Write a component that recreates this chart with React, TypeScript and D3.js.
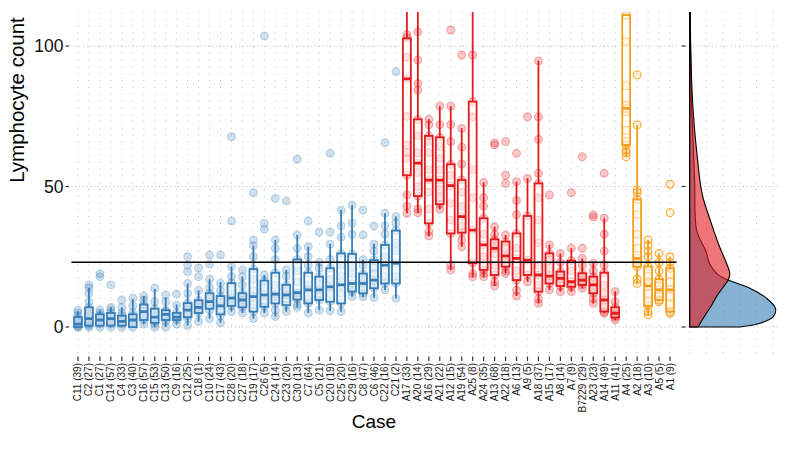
import React, { useEffect, useRef } from "react";
import * as d3 from "d3";

// cases, in plotted order, with number of samples in brackets
const cases = [
  "C11 (39)", "C2 (27)", "C1 (27)", "C14 (57)", "C4 (33)", "C3 (40)", "C16 (57)", "C15 (53)",
  "C13 (50)", "C9 (16)", "C12 (25)", "C18 (1)", "C10 (24)", "C17 (43)", "C28 (20)", "C27 (18)",
  "C19 (17)", "C26 (5)", "C24 (14)", "C23 (20)", "C30 (13)", "C7 (64)", "C5 (21)", "C20 (19)",
  "C25 (20)", "C29 (16)", "C8 (47)", "C6 (46)", "C22 (16)", "C21 (2)",
  "A17 (33)", "A20 (14)", "A16 (29)", "A21 (22)", "A12 (15)", "A19 (54)", "A25 (8)", "A24 (35)",
  "A13 (68)", "A22 (18)", "A6 (13)", "A9 (5)", "A18 (37)", "A15 (17)", "A8 (14)", "A7 (9)",
  "B7229 (29)", "A23 (23)", "A14 (49)", "A11 (41)",
  "A4 (25)", "A2 (18)", "A3 (10)", "A5 (5)", "A1 (9)",
];
const caseGroup = "CCCCCCCCCCCCCCCCCCCCCCCCCCCCCCAAAAAAAAAAAAAAAAAAAAOOOOO".split("");

// box statistics per case
const whiskerLow = [
  0, 0, 0, 0, 0, 0, 1, 0, 0, 1, 0.5, 2, 3, 1.5, 5.5, 5, 3, 5, 3.7, 5.5, 7, 5, 6, 5.8, 5.5, 10.8, 10.8, 10.5, 13.2, 10.2,
  40.5, 40.7, 32.4, 41.9, 20.3, 28.6, 17.9, 17.9, 14.6, 19.1, 11, 16.1, 8.4, 13.2, 12.6, 12.6, 13.8, 8.4, 4.9, 2.5,
  60.6, 15.5, 4.3, 9, 4.9,
];
const q1 = [
  0, 0.5, 0.5, 0.5, 0.5, 0, 2.5, 1.5, 2.5, 2.5, 3.5, 5, 6.5, 4.5, 7.5, 7, 5.5, 7.2, 8.4, 7.8, 9.8, 8.4, 9.6, 9, 8.4, 12.6, 12, 13.8, 15.5, 15.5,
  54, 46.6, 36.9, 43.7, 33.3, 33.6, 22.7, 20.3, 18.5, 21.5, 16.7, 18.5, 12.6, 15.5, 14.6, 14.3, 15, 12, 5.5, 3.4,
  64.8, 21.5, 7.5, 9.6, 5.5,
];
const median = [
  1, 3, 2.5, 3, 2, 2.5, 5.5, 3.5, 4.5, 3.5, 6, 7, 9, 7.5, 10.3, 9.6, 10.8, 11.4, 11.7, 11.4, 12.2, 13.2, 13.2, 14.3, 15, 15.5, 15.5, 16.7, 22, 22.7,
  88.3, 58.3, 52.3, 52.3, 50.3, 39.3, 34.5, 29.2, 28, 25.3, 24.4, 23.8, 18.5, 18.1, 17.3, 16.1, 16.7, 15, 9.6, 4.9,
  77.8, 24.4, 14.6, 13.2, 13.2,
];
const q3 = [
  3.5, 7, 4.5, 5, 4, 4.5, 8, 6.5, 6, 5, 8.5, 9.5, 12, 11, 15.6, 12, 20.6, 16.5, 19.3, 15, 24, 19.3, 17.9, 20.9, 26.2, 26, 19, 23.8, 29.2, 34.3,
  102.7, 73.9, 68, 67.5, 57.9, 52.3, 80.2, 38.7, 31.2, 30.4, 33.3, 39.5, 51.1, 26.2, 19.7, 23.6, 19.1, 17.9, 19.3, 7,
  111, 45.4, 21.5, 17, 20.9,
];
const whiskerHigh = [
  5.5, 14, 6, 7, 7, 10, 11, 13.5, 10.5, 8, 15.5, 13, 17, 16, 21.5, 18, 29, 18.5, 31, 20.3, 32.7, 28.6, 23, 29.5, 41.6, 43.4, 24, 29.5, 40.5, 39.3,
  125, 125, 73.9, 78.6, 78.6, 70.7, 125, 51.4, 35.7, 32.7, 51.7, 52.9, 94.7, 29.2, 26.2, 28, 24.4, 22.7, 38.7, 12.6,
  111, 71.9, 31, 26.2, 25,
];

// individual counts that can be made out per case
const casePoints = [
  [0, 0, 0.5, 1, 1.5, 2, 2.5, 3, 4, 5, 6],
  [0, 0.5, 1, 2, 3, 4, 5, 6, 7, 9, 12, 14, 15],
  [0, 1, 2, 3, 4, 5, 6, 17.9, 19],
  [0, 1, 2, 3, 4, 5, 6, 7, 15],
  [0, 1, 2, 3, 4, 5, 7, 9.6],
  [0, 1, 2, 3, 4, 5, 7.5, 10.3],
  [1, 2.5, 4, 5.5, 7, 8, 9.6, 11],
  [0, 1, 2, 3.5, 5, 6.5, 9, 13.8],
  [0, 2, 3, 4.5, 5.5, 6, 9, 11.4],
  [1, 2.5, 3.5, 4, 5, 7.8, 11.8],
  [0.5, 3, 4, 6, 7, 8.5, 12, 15.5, 19.7, 22, 25],
  [2, 5, 6, 7, 8, 9.5, 13, 17.9, 21],
  [3, 6, 8, 9, 10, 12, 14, 17, 22.4, 25.6],
  [1.5, 4, 6, 7.5, 9, 11, 13, 15.6, 25.6],
  [5.5, 7.5, 9, 10.3, 12, 15.6, 18, 21.5, 37.7, 67.7],
  [5, 7, 8.5, 9.6, 11, 12, 15, 17.9, 20.3],
  [3, 5.5, 8, 10.8, 13, 17, 20.6, 25, 29, 31, 47.8],
  [5, 7.2, 9, 11.4, 14, 16.5, 18.5, 34.8, 36.9, 103.6],
  [3.7, 6, 8.4, 11, 11.7, 15, 19.3, 24, 28, 31, 45.8],
  [5.5, 7.8, 10, 11.4, 13, 15, 18, 20.3, 44.8],
  [7, 8, 9.8, 12, 12.2, 16, 20, 24, 28, 32.7, 59.7],
  [5, 8.4, 10, 13.2, 15, 19.3, 22, 25, 28.6, 37.7],
  [6, 9.6, 11, 13.2, 15, 17.9, 21, 23, 33.8],
  [5.8, 9, 12, 14.3, 17, 20.9, 24, 29.5, 33.8, 61.8],
  [5.5, 8.4, 12, 15, 18, 22, 26.2, 32, 36, 41.6],
  [10.8, 12.6, 14, 15.5, 19, 22, 26, 33, 37, 43.4],
  [10.8, 12, 14, 15.5, 17, 19, 22, 24, 32.7, 41.6],
  [10.5, 13.8, 15, 16.7, 19, 21, 23.8, 27, 29.5, 36],
  [13.2, 15.5, 18, 22, 25, 29.2, 33, 36, 40.5, 65.6],
  [10.2, 15.5, 18, 22.7, 27, 30, 34.3, 37, 39.3, 90.9],
  [40.5, 43, 47, 54, 60, 62, 64.8, 75, 88.3, 96, 103, 104],
  [40.7, 42, 46.6, 50, 55, 58.3, 62, 68, 73.9, 84.3, 86.7, 95, 105],
  [32.4, 34, 36.9, 42, 48, 52.3, 56, 62, 66, 68, 72, 73.9],
  [41.9, 43.7, 46, 49, 52.3, 56, 60, 64, 67.5, 72, 78.6],
  [20.3, 22, 33.3, 38, 44, 50.3, 54, 57.9, 66, 72, 78.6, 105.7],
  [28.6, 31, 33.6, 36, 39.3, 43, 48, 52.3, 58, 64, 70.7, 96.8],
  [17.9, 19, 22.7, 34.5, 46, 56, 74.8, 80.2, 96.8],
  [17.9, 19, 20.3, 25, 29.2, 33, 38.7, 43, 46, 51.4],
  [14.6, 16, 18.5, 22, 26, 28, 30, 31.2, 33, 35.7, 64.8, 65.5],
  [19.1, 20, 21.5, 24, 25.3, 28, 30.4, 32.7, 51.1, 54, 66],
  [11, 13, 16.7, 20, 24.4, 28, 33.3, 40, 45, 51.7, 61.8],
  [16.1, 18.5, 23.8, 39.5, 52.9, 74.8],
  [8.4, 10, 12.6, 15, 18.5, 22, 30, 38, 46, 51.1, 54.7, 66.8, 74.8, 94.7],
  [13.2, 15.5, 17, 18.1, 21, 24, 26.2, 29.2, 47],
  [12.6, 14.6, 16, 17.3, 18.5, 19.7, 23, 26.2],
  [12.6, 14.3, 16.1, 20, 23.6, 28, 47.8],
  [13.8, 15, 16, 16.7, 18, 19.1, 22, 24.4, 28, 60.6],
  [8.4, 10, 12, 13.5, 15, 16.5, 17.9, 20, 22.7, 39.1, 39.9],
  [4.9, 5.5, 7, 9.6, 12, 15, 19.3, 22, 27, 33, 38.7, 54.7],
  [2.5, 3.4, 4, 4.9, 6, 7, 9, 12.6],
  [60.6, 62, 63, 64.8, 66, 70, 76.6, 77.8, 79, 85.8, 101.5, 111],
  [15.5, 17, 21.5, 22.5, 24.4, 28, 33, 40, 45.4, 47.8, 48.8, 71.9, 89.7],
  [4.3, 5.5, 7.5, 9, 12, 14.6, 16, 18, 21.5, 25, 27, 29, 31],
  [9, 9.6, 11, 13.2, 15, 17, 20, 23, 26.2],
  [4.9, 5.5, 8, 11, 13.2, 16, 19, 20.9, 23, 25, 40.7, 50.8],
];

const cutoff = 23;
const yTicks = [0, 50, 100];

// marginal densities
const densityControlAt = [0, 1.3, 3.7, 6.6, 10.2, 13.8, 16.7, 19, 22.4, 27.1, 34.3, 50.9, 65, 81.7, 100, 113];
const densityControl = [0.06, 0.084, 0.1, 0.1026, 0.092, 0.072, 0.046, 0.0324, 0.024, 0.0192, 0.0084, 0.006, 0.0042, 0.002, 0.001, 0.0006];
const densityPatientAt = [0, 2.5, 4.9, 7.5, 10.8, 13.8, 16.7, 19, 22.4, 28.4, 34.3, 40.3, 46, 50.8, 58, 69.8, 81.7, 100, 113];
const densityPatient = [0.01, 0.015, 0.02, 0.0258, 0.032, 0.039, 0.046, 0.048, 0.0444, 0.036, 0.0288, 0.022, 0.016, 0.0128, 0.01, 0.006, 0.0032, 0.0012, 0.0008];
const densityBreaks = [0, 0.02, 0.04, 0.06, 0.08, 0.1];

const colors: Record<string, string> = { C: "#377EB8", A: "#E41A1C", O: "#F59E1B" };
const font = "'Liberation Sans', Arial, Helvetica, sans-serif";

const App: React.FC = () => {
  const ref = useRef<SVGSVGElement | null>(null);

  useEffect(() => {
    document.body.style.margin = "0";
    if (!ref.current) return;
    const svg = d3.select(ref.current);
    svg.selectAll("*").remove();

    const left = 71.4, right = 676.6, top = 12, bottom = 356;
    const dLeft = 685.5, dRight = 780;

    const x = d3.scalePoint<string>().domain(cases).range([left, right]).padding(0.6);
    const y = d3.scaleLinear().domain([0, 100]).range([327, 46]);
    const dx = d3.scaleLinear().domain([-0.005, 0.108]).range([dLeft, dRight]);

    const defs = svg.append("defs");
    defs.append("clipPath").attr("id", "main-clip").append("rect")
      .attr("x", left).attr("y", top).attr("width", right - left).attr("height", bottom - top);
    defs.append("clipPath").attr("id", "dens-clip").append("rect")
      .attr("x", dLeft).attr("y", top).attr("width", dRight - dLeft).attr("height", bottom - top);

    // grid
    const grid = svg.append("g").attr("stroke", "#bdbdbd").attr("stroke-width", 0.9);
    grid.selectAll("line.v").data(cases).enter().append("line")
      .attr("x1", (d) => x(d)!).attr("x2", (d) => x(d)!)
      .attr("y1", top).attr("y2", bottom)
      .attr("stroke-dasharray", "1.2 5.6");
    grid.selectAll("line.h").data(yTicks).enter().append("line")
      .attr("x1", left).attr("x2", right)
      .attr("y1", (d) => y(d)).attr("y2", (d) => y(d))
      .attr("stroke-dasharray", "1.2 2.6");
    grid.selectAll("line.dv").data(densityBreaks).enter().append("line")
      .attr("x1", (d) => dx(d)).attr("x2", (d) => dx(d))
      .attr("y1", top).attr("y2", bottom)
      .attr("stroke-dasharray", "1.2 5.6");
    grid.selectAll("line.dh").data(yTicks).enter().append("line")
      .attr("x1", dLeft).attr("x2", dRight)
      .attr("y1", (d) => y(d)).attr("y2", (d) => y(d))
      .attr("stroke-dasharray", "1.2 2.6");

    const main = svg.append("g").attr("clip-path", "url(#main-clip)");

    // points
    cases.forEach((c, i) => {
      const g = caseGroup[i];
      const col = colors[g];
      main.append("g").selectAll("circle").data(casePoints[i]).enter().append("circle")
        .attr("cx", x(c)!)
        .attr("cy", (d) => y(d))
        .attr("r", 3.9)
        .attr("fill", col)
        .attr("fill-opacity", g === "O" ? 0.15 : 0.24)
        .attr("stroke", col)
        .attr("stroke-opacity", g === "O" ? 0.9 : g === "A" ? 0.32 : 0.28)
        .attr("stroke-width", 1.1);
    });

    // boxes
    const bw = x.step() * 0.72;
    const boxes = main.selectAll("g.box").data(cases).enter().append("g")
      .attr("stroke", (d, i) => colors[caseGroup[i]])
      .attr("fill", "none");
    boxes.append("line")
      .attr("x1", (d) => x(d)!).attr("x2", (d) => x(d)!)
      .attr("y1", (d, i) => y(whiskerLow[i])).attr("y2", (d, i) => y(q1[i]))
      .attr("stroke-width", 1.8);
    boxes.append("line")
      .attr("x1", (d) => x(d)!).attr("x2", (d) => x(d)!)
      .attr("y1", (d, i) => y(q3[i])).attr("y2", (d, i) => y(whiskerHigh[i]))
      .attr("stroke-width", 1.8);
    boxes.append("rect")
      .attr("x", (d) => x(d)! - bw / 2)
      .attr("width", bw)
      .attr("y", (d, i) => y(q3[i]))
      .attr("height", (d, i) => Math.max(y(q1[i]) - y(q3[i]), 0.5))
      .attr("fill", "#ffffff")
      .attr("fill-opacity", 0.5)
      .attr("stroke-width", 1.8);
    boxes.append("line")
      .attr("x1", (d) => x(d)! - bw / 2).attr("x2", (d) => x(d)! + bw / 2)
      .attr("y1", (d, i) => y(median[i])).attr("y2", (d, i) => y(median[i]))
      .attr("stroke-width", 2.8);

    // cutoff line
    svg.append("line")
      .attr("x1", left).attr("x2", right)
      .attr("y1", y(cutoff)).attr("y2", y(cutoff))
      .attr("stroke", "#000").attr("stroke-width", 1.5);

    // marginal densities
    const dens = svg.append("g").attr("clip-path", "url(#dens-clip)");
    const area = (at: number[]) =>
      d3.area<number>()
        .y((d, i) => y(at[i]))
        .x0(dx(0))
        .x1((d) => dx(d))
        .curve(d3.curveCatmullRom);
    dens.append("path")
      .attr("d", area(densityControlAt)(densityControl)!)
      .attr("fill", colors.C).attr("fill-opacity", 0.6)
      .attr("stroke", "#000").attr("stroke-width", 1.1);
    dens.append("path")
      .attr("d", area(densityPatientAt)(densityPatient)!)
      .attr("fill", colors.A).attr("fill-opacity", 0.6)
      .attr("stroke", "#000").attr("stroke-width", 1.1);

    // axes
    const axis = svg.append("g").attr("font-family", font);
    axis.selectAll("line.yt").data(yTicks).enter().append("line")
      .attr("x1", 65.5).attr("x2", 69).attr("y1", (d) => y(d)).attr("y2", (d) => y(d))
      .attr("stroke", "#333").attr("stroke-width", 1.2);
    axis.selectAll("text.yt").data(yTicks).enter().append("text")
      .attr("x", 63.5).attr("y", (d) => y(d)).attr("dy", "0.36em")
      .attr("text-anchor", "end").attr("font-size", 17.5).attr("fill", "#111")
      .text((d) => d);
    axis.selectAll("line.dyt").data(yTicks).enter().append("line")
      .attr("x1", dLeft - 4).attr("x2", dLeft).attr("y1", (d) => y(d)).attr("y2", (d) => y(d))
      .attr("stroke", "#333").attr("stroke-width", 1.2);
    axis.selectAll("line.xt").data(cases).enter().append("line")
      .attr("x1", (d) => x(d)!).attr("x2", (d) => x(d)!)
      .attr("y1", bottom + 0.5).attr("y2", bottom + 5)
      .attr("stroke", "#333").attr("stroke-width", 1.2);
    axis.selectAll("text.xt").data(cases).enter().append("text")
      .attr("transform", (d) => `translate(${x(d)! + 3.5},${bottom + 7}) rotate(-90)`)
      .attr("text-anchor", "end").attr("font-size", 10).attr("fill", "#1a1a1a")
      .text((d) => d);

    axis.append("text")
      .attr("transform", "translate(24,100) rotate(-90)")
      .attr("text-anchor", "middle").attr("font-size", 20.5).attr("fill", "#000")
      .text("Lymphocyte count");
    axis.append("text")
      .attr("x", (left + right) / 2).attr("y", 428)
      .attr("text-anchor", "middle").attr("font-size", 19).attr("fill", "#000")
      .text("Case");
  }, []);

  return <svg ref={ref} width={800} height={454} style={{ display: "block" }}></svg>;
};

export default App;
